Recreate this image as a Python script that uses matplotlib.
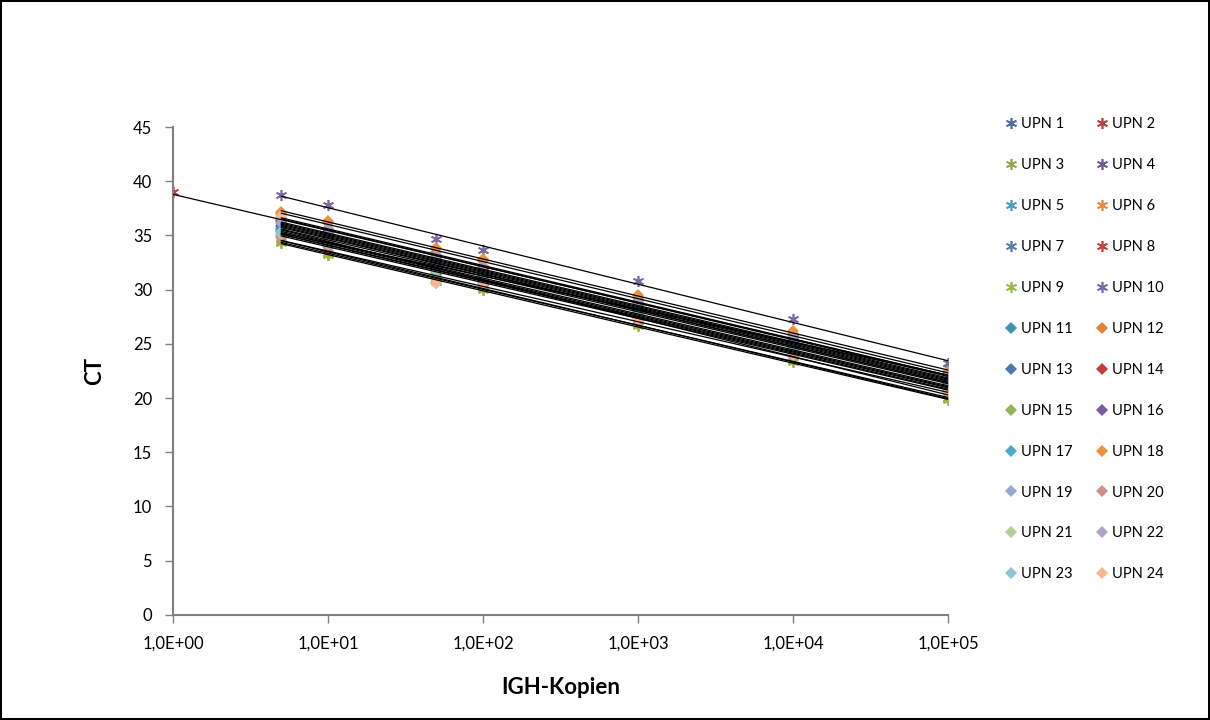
import numpy as np
import matplotlib
matplotlib.use('Agg')
import matplotlib.pyplot as plt
import matplotlib.ticker as mticker

plt.rcParams['font.family'] = ['Lato', 'DejaVu Sans']

# Kopienzahlen (x) und CT-Werte je Patient (nan = kein Messpunkt)
kopien = [1, 5, 10, 50, 100, 1e3, 1e4, 1e5]
namen = ['UPN %d' % i for i in range(1, 25)]
ct = [
    [np.nan, 35.8, 34.8, 32.2, 31.3, 28.2, 24.8, 21.4],
    [39.0, 36.4, 35.3, 33.0, 32.0, 28.9, 25.6, 22.0],
    [np.nan, 34.4, 33.3, 30.9, 30.1, 26.8, 23.4, 20.0],
    [np.nan, 36.2, 35.2, 32.6, 31.7, 28.5, 25.2, 21.7],
    [np.nan, 35.5, 34.6, 32.0, 31.0, 27.9, 24.6, 22.8],
    [np.nan, 34.6, 33.4, 31.0, 30.2, 26.7, 23.4, 19.9],
    [np.nan, 35.2, 34.1, 31.6, 30.7, 27.5, 24.2, 20.8],
    [np.nan, 36.0, 35.0, 32.4, 31.5, 28.3, 25.0, 21.5],
    [np.nan, 34.3, 33.2, 30.7, 30.0, 26.6, 23.3, 19.8],
    [np.nan, 38.7, 37.8, 34.7, 33.7, 30.8, 27.3, 23.2],
    [np.nan, 35.6, 34.7, 32.1, 31.2, 28.0, 24.7, 21.3],
    [np.nan, 37.0, 36.1, 33.5, 32.6, 29.2, 25.9, 22.2],
    [np.nan, 35.9, 34.9, 32.3, 31.4, 28.1, 24.9, 21.4],
    [np.nan, 36.3, 35.3, 32.7, 31.8, 28.6, 25.3, 21.8],
    [np.nan, 35.0, 34.0, 31.5, 30.6, 27.4, 24.1, 20.7],
    [np.nan, 36.5, 35.6, 33.0, 32.1, 28.8, 25.5, 21.9],
    [np.nan, 35.4, 34.4, 32.0, 31.0, 27.8, 24.5, 21.1],
    [np.nan, 37.2, 36.3, 33.8, 32.8, 29.5, 26.2, 22.4],
    [np.nan, 36.1, 35.1, 32.5, 31.6, 28.4, 25.1, 21.6],
    [np.nan, 34.9, 33.6, 30.6, 30.3, 27.2, 23.9, 20.5],
    [np.nan, 35.1, 34.2, 31.7, 30.8, 27.6, 24.3, 20.9],
    [np.nan, 36.6, 35.7, 33.1, 32.2, 28.9, 25.6, 22.0],
    [np.nan, 35.3, 34.3, 31.8, 30.9, 27.7, 24.4, 21.0],
    [np.nan, 36.8, 34.4, 30.6, 30.6, 27.3, 24.0, 20.6],
]
farben = ['#4a6fa0', '#b8403d', '#8fa852', '#6f5a93', '#44a0b8', '#e8883c',
          '#5c7fb0', '#c5423f', '#9bb848', '#7a68a0',
          '#3f93a8', '#e0823a', '#4a78b5', '#c03e44', '#93b35a', '#7a5ca0',
          '#4aaac8', '#f0903e', '#98a8d0', '#d09090', '#b8cc98', '#b0a4c8',
          '#90c4d0', '#f4b898']

fig = plt.figure(figsize=(12.1, 7.2), dpi=100)
fig.patch.set_edgecolor('black')
fig.patch.set_linewidth(1.5)
ax = fig.add_axes([0.143, 0.146, 0.6405, 0.6776])

x = np.array(kopien)
handles = []
for i, (name, werte) in enumerate(zip(namen, ct)):
    y = np.array(werte)
    ok = ~np.isnan(y)
    if i < 10:
        m, ms, mew = (6, 2, 0), 8, 1.2
    else:
        m, ms, mew = 'D', 6, 0
    h, = ax.plot(x[ok], y[ok], linestyle='none', marker=m, markersize=ms,
                 markeredgewidth=mew, color=farben[i], markeredgecolor=farben[i],
                 label=name, zorder=2)
    handles.append(h)
    # lineare Trendlinie (log-x)
    lx = np.log10(x[ok])
    k, d = np.polyfit(lx, y[ok], 1)
    xs = np.array([lx.min(), lx.max()])
    ax.plot(10 ** xs, k * xs + d, color='black', linewidth=0.9, zorder=3)

ax.set_xscale('log')
ax.set_xlim(1, 1e5)
ax.set_ylim(0, 45)
ax.xaxis.set_major_locator(mticker.FixedLocator([1, 10, 100, 1e3, 1e4, 1e5]))
ax.xaxis.set_minor_locator(mticker.NullLocator())
ax.xaxis.set_major_formatter(mticker.FuncFormatter(
    lambda v, p: '1,0E+%02d' % int(round(np.log10(v)))))
ax.yaxis.set_major_locator(mticker.MultipleLocator(5))
ax.tick_params(axis='both', which='major', labelsize=12, direction='out',
               length=6, width=1, color='#808080', pad=9)
for s in ['top', 'right']:
    ax.spines[s].set_visible(False)
for s in ['left', 'bottom']:
    ax.spines[s].set_color('#808080')
    ax.spines[s].set_linewidth(1.5)

ax.set_xlabel('IGH-Kopien', fontsize=16, fontweight='bold', labelpad=18)
ax.set_ylabel('CT', fontsize=16, fontweight='bold', labelpad=20)

# Legende zeilenweise: UPN 1 | UPN 2, UPN 3 | UPN 4, ...
order = list(range(0, 24, 2)) + list(range(1, 24, 2))
ax.legend([handles[i] for i in order], [namen[i] for i in order],
          ncol=2, frameon=False, fontsize=10.5, loc='upper left',
          bbox_to_anchor=(0.826, 0.845), bbox_transform=fig.transFigure,
          labelspacing=1.845, handlelength=0.8, handletextpad=0.3,
          columnspacing=1.6, borderaxespad=0)

fig.savefig('out.png', dpi=100)
